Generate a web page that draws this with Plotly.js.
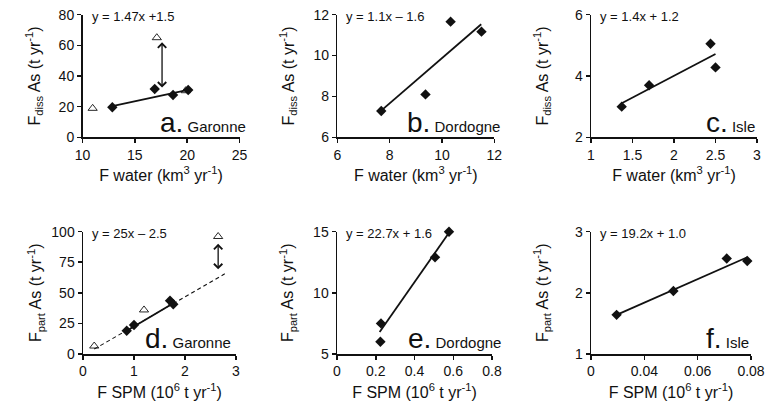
<!DOCTYPE html>
<html>
<head>
<meta charset="utf-8">
<script src="https://cdn.plot.ly/plotly-3.0.1.min.js"></script>
<style>html,body{margin:0;padding:0;background:#fff;}#chart{width:767px;height:405px;}</style>
</head>
<body>
<div id="chart"></div>
<script>
// ---------- data ----------
// a. Garonne : dissolved As vs water discharge
const aDiamondX = [12.85, 16.9, 18.65, 20.1];
const aDiamondY = [19.6, 31.5, 27.6, 30.9];
const aTriangleX = [10.97, 17.1, 19.86];
const aTriangleY = [18.9, 65, 30.4];
const aFitX = [12.85, 20.3];
const aFitY = [20.4, 31.3];
const aArrowX = [17.6];
const aArrowTop = [62];
const aArrowBottom = [31.5];

// b. Dordogne
const bDiamondX = [7.68, 9.37, 10.33, 11.51];
const bDiamondY = [7.29, 8.1, 11.66, 11.17];
const bFitX = [7.6, 11.5];
const bFitY = [7.22, 11.53];

// c. Isle
const cDiamondX = [1.37, 1.70, 2.44, 2.50];
const cDiamondY = [3.0, 3.70, 5.05, 4.28];
const cFitX = [1.37, 2.5];
const cFitY = [3.11, 4.72];

// d. Garonne : particulate As vs SPM
const dDiamondX = [0.857, 1.0, 1.706, 1.77];
const dDiamondY = [19, 23.7, 43.6, 40.6];
const dTriangleX = [0.22, 1.196, 2.65];
const dTriangleY = [6.5, 36, 96];
const dFitX = [0.86, 1.77];
const dFitY = [19, 41.5];
const dExtX = [0.22, 2.78];
const dExtY = [4, 65.5];
const dArrowX = [2.65];
const dArrowTop = [90];
const dArrowBottom = [68];

// e. Dordogne
const eDiamondX = [0.227, 0.224, 0.506, 0.578];
const eDiamondY = [7.5, 6.0, 12.9, 14.99];
const eFitX = [0.22, 0.578];
const eFitY = [6.8, 14.9];

// f. Isle
const fDiamondX = [0.0296, 0.0509, 0.0709, 0.0786];
const fDiamondY = [1.64, 2.03, 2.56, 2.52];
const fFitX = [0.0296, 0.0786];
const fFitY = [1.64, 2.58];
const fTickVals = [0.02, 0.04, 0.06, 0.08];
const fTickText = ['0', '0.04', '0.06', '0.08'];

const equations = ['y = 1.47x +1.5', 'y = 1.1x \u2013 1.6', 'y = 1.4x + 1.2',
                   'y = 25x \u2013 2.5', 'y = 22.7x + 1.6', 'y = 19.2x + 1.0'];
const panelLetters = ['a.', 'b.', 'c.', 'd.', 'e.', 'f.'];
const rivers = ['Garonne', 'Dordogne', 'Isle', 'Garonne', 'Dordogne', 'Isle'];

// ---------- drawing ----------
const W = 767, H = 405;
const ink = '#111';
const FONT = '"Liberation Sans", Arial, Helvetica, sans-serif';

function diamonds(x, y, n) {
  return {x: x, y: y, xaxis: 'x' + n, yaxis: 'y' + n, type: 'scatter', mode: 'markers', cliponaxis: false,
          marker: {symbol: 'diamond', size: 8, color: ink, line: {width: 0}}, hoverinfo: 'skip'};
}
function triangles(x, y, n) {
  return {x: x, y: y, xaxis: 'x' + n, yaxis: 'y' + n, type: 'scatter', mode: 'markers', cliponaxis: false,
          marker: {symbol: 'triangle-up-open', size: 8, color: ink, line: {width: 0.9, color: ink}}, hoverinfo: 'skip'};
}
function line(x, y, n, dash) {
  return {x: x, y: y, xaxis: 'x' + n, yaxis: 'y' + n, type: 'scatter', mode: 'lines', cliponaxis: false,
          line: {color: ink, width: dash ? 1.1 : 1.8, dash: dash || 'solid'}, hoverinfo: 'skip'};
}

const traces = [
  line(aFitX, aFitY, ''), diamonds(aDiamondX, aDiamondY, ''), triangles(aTriangleX, aTriangleY, ''),
  line(bFitX, bFitY, 2), diamonds(bDiamondX, bDiamondY, 2),
  line(cFitX, cFitY, 3), diamonds(cDiamondX, cDiamondY, 3),
  line(dExtX, dExtY, 4, '4px,3px'), line(dFitX, dFitY, 4), diamonds(dDiamondX, dDiamondY, 4), triangles(dTriangleX, dTriangleY, 4),
  line(eFitX, eFitY, 5), diamonds(eDiamondX, eDiamondY, 5),
  line(fFitX, fFitY, 6), diamonds(fDiamondX, fDiamondY, 6)
];

// pixel layout of the six plot areas [left, right, top, bottom]
const boxes = [
  [82.5, 239.5, 14.7, 137.3], [337.3, 494.3, 14.7, 137.3], [591, 757, 14.7, 137.3],
  [83, 236, 231.6, 354], [337, 492, 231.6, 354], [591, 751, 231.6, 354]
];
const xRanges = [[10, 25], [6, 12], [1, 3], [0, 3], [0, 0.8], [0.02, 0.08]];
const yRanges = [[0, 80], [6, 12], [2, 6], [0, 100], [5, 15], [1, 3]];
const yDticks = [20, 2, 2, 25, 5, 1];
const xDticks = [5, 2, 0.5, 1, 0.2, null];
const yStandoff = [14, 15, 22, 5, 15, 22];

const xTitleTop = 'F water (km<sup>3</sup> yr<sup>-1</sup>)';
const xTitleBot = 'F SPM (10<sup>6</sup> t yr<sup>-1</sup>)';
const yTitleTop = 'F<sub>diss</sub> As (t yr<sup>-1</sup>)';
const yTitleBot = 'F<sub>part</sub> As (t yr<sup>-1</sup>)';

const layout = {
  width: W, height: H, margin: {l: 0, r: 0, t: 0, b: 0},
  paper_bgcolor: '#fff', plot_bgcolor: 'rgba(0,0,0,0)',
  showlegend: false, font: {family: FONT, color: ink, size: 14},
  annotations: []
};

boxes.forEach((b, i) => {
  const n = i === 0 ? '' : String(i + 1);
  const top = i < 3;
  const xa = {
    domain: [b[0] / W, b[1] / W], range: xRanges[i], anchor: 'y' + n,
    showline: true, linecolor: ink, linewidth: 1.5, ticks: 'outside', ticklen: 4, tickwidth: 1.5, tickcolor: ink,
    showgrid: false, zeroline: false, fixedrange: true,
    tickfont: {family: FONT, size: 14, color: ink},
    title: {text: top ? xTitleTop : xTitleBot, font: {family: FONT, size: 16, color: ink}, standoff: 8}
  };
  if (xDticks[i] !== null) { xa.tickmode = 'linear'; xa.tick0 = xRanges[i][0]; xa.dtick = xDticks[i]; }
  else { xa.tickmode = 'array'; xa.tickvals = fTickVals; xa.ticktext = fTickText; }
  const ya = {
    domain: [1 - b[3] / H, 1 - b[2] / H], range: yRanges[i], anchor: 'x' + n,
    showline: true, linecolor: ink, linewidth: 1.5, ticks: 'outside', ticklen: 4, tickwidth: 1.5, tickcolor: ink,
    showgrid: false, zeroline: false, fixedrange: true,
    tickmode: 'linear', tick0: yRanges[i][0], dtick: yDticks[i],
    tickfont: {family: FONT, size: 14, color: ink},
    title: {text: top ? yTitleTop : yTitleBot, font: {family: FONT, size: 16, color: ink}, standoff: yStandoff[i]}
  };
  layout['xaxis' + n] = xa;
  layout['yaxis' + n] = ya;

  // regression equation
  layout.annotations.push({
    xref: 'paper', yref: 'paper', x: (b[0] + 7) / W, y: 1 - (b[2] + 1.5) / H,
    xanchor: 'left', yanchor: 'middle', showarrow: false,
    text: equations[i], font: {family: FONT, size: 13, color: ink}
  });
  // panel label
  const rightEdge = [248, 502, 757, 233, 503, 751][i];
  const baseline = top ? 131 : 347.3;
  layout.annotations.push({
    xref: 'paper', yref: 'paper', x: rightEdge / W, y: 1 - (baseline - 9) / H,
    xanchor: 'right', yanchor: 'middle', showarrow: false,
    text: panelLetters[i] + '<span style="font-size:15px"> ' + rivers[i] + '</span>',
    font: {family: FONT, size: 28, color: ink}
  });
});

// double-headed arrows
[[aArrowX, aArrowTop, aArrowBottom, ''], [dArrowX, dArrowTop, dArrowBottom, '4']].forEach(a => {
  a[0].forEach((x, k) => {
    layout.annotations.push({
      xref: 'x' + a[3], yref: 'y' + a[3], axref: 'x' + a[3], ayref: 'y' + a[3],
      x: x, y: a[1][k], ax: x, ay: a[2][k], text: '', showarrow: true,
      arrowhead: 4, startarrowhead: 4, arrowside: 'end+start', arrowsize: 1.25, startarrowsize: 1.25,
      arrowwidth: 1.3, arrowcolor: ink
    });
  });
});

Plotly.newPlot('chart', traces, layout, {staticPlot: true, displayModeBar: false});
</script>
</body>
</html>
